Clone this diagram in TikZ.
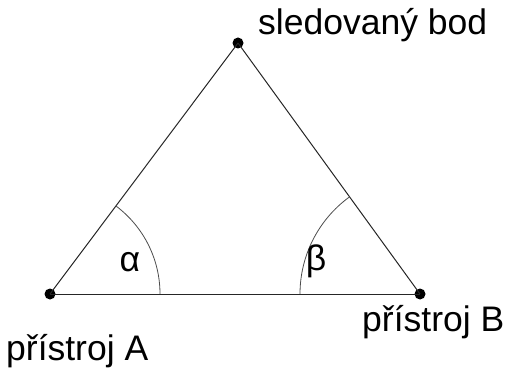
\documentclass[tikz,border=0pt]{standalone}
\usepackage{fontspec}
\setmainfont{Liberation Sans}
\usepackage{tikz}
\usetikzlibrary{positioning, calc}
\tikzset{
  pnt/.style   = {circle, fill=black, inner sep=0pt, minimum size=11pt},
  lbl/.style   = {inner sep=0pt, font=\fontsize{35.5}{42}\selectfont},
  side/.style  = {line width=1pt, black!85},
  uhel/.style  = {line width=0.8pt, black!70},
}
\begin{document}
\begin{tikzpicture}[x=1pt, y=1pt]

  \useasboundingbox (0,0) rectangle (505,367);

  %% Points
  \node[pnt] (A) at (50,73)   {};
  \node[pnt] (B) at (420,73)  {};
  \node[pnt] (C) at (238,324) {};

  %% Sides
  \draw[side] (A.center) -- (B.center);
  \draw[side] (A.center) -- (C.center);
  \draw[side] (B.center) -- (C.center);

  %% Angles
  \draw[uhel] ($(A.center)+(110,0)$) arc[start angle=0, end angle=53.2, radius=110];
  \draw[uhel] ($(B.center)+(-120,0)$) arc[start angle=180, end angle=126.1, radius=120];
  \node[lbl] (alfa) at (130,105) {α};
  \node[lbl] (beta) at (316,106) {β};

  %% Labels
  \node[lbl, anchor=base west] (lC) at (258,332) {sledovaný bod};
  \node[lbl, anchor=base west] (lA) at (6,7)     {přístroj A};
  \node[lbl, anchor=base west] (lB) at (362,36)  {přístroj B};

\end{tikzpicture}
\end{document}
